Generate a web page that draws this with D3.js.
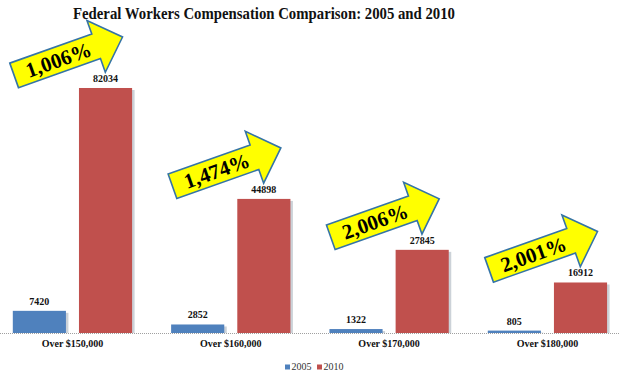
<!DOCTYPE html>
<html><head><meta charset="utf-8">
<script src="https://cdn.jsdelivr.net/npm/d3@7"></script>
<style>html,body{margin:0;padding:0;background:#fff;}svg{display:block;}</style>
</head><body>
<svg id="c" width="620" height="376"></svg>
<script>
const categories = ["Over $150,000", "Over $160,000", "Over $170,000", "Over $180,000"];
const series = ["2005", "2010"];
const values2005 = [7420, 2852, 1322, 805];
const values2010 = [82034, 44898, 27845, 16912];
const increases = ["1,006%", "1,474%", "2,006%", "2,001%"];
const colors = ["#4F81BD", "#C0504D"];
const title = "Federal Workers Compensation Comparison: 2005 and 2010";

const svg = d3.select("#c");
const serif = "'Liberation Serif','Times New Roman',serif";
const baseY = 333;

const x = d3.scaleBand().domain(categories).range([-6.7, 626.6]).paddingInner(0).paddingOuter(0);
const xs = d3.scaleBand().domain(series).range([19.5, 138.8]).paddingInner(0.197).paddingOuter(0);
const y = d3.scaleLinear().domain([0, 90000]).range([baseY, baseY - 268.8]);

// title
svg.append("text").attr("x", 264).attr("y", 19).attr("text-anchor", "middle")
  .attr("font-family", serif).attr("font-weight", "bold").attr("font-size", 17)
  .attr("textLength", 382).attr("lengthAdjust", "spacingAndGlyphs")
  .attr("fill", "#111").text(title);

// baseline
svg.append("line").attr("x1", 0).attr("x2", 620).attr("y1", baseY + 0.5).attr("y2", baseY + 0.5)
  .attr("stroke", "#a0a0a0").attr("stroke-width", 1.2).attr("stroke-dasharray", "1,1");

const rows = categories.map((c, i) => ({c, i, v: [values2005[i], values2010[i]]}));

const g = svg.append("g").selectAll("g").data(rows).join("g")
  .attr("transform", d => `translate(${x(d.c)},0)`);

const bars = g.selectAll("g.b").data(d => series.map((s, k) => ({s, k, v: d.v[k]}))).join("g").attr("class", "b");
// shadow
bars.append("rect").attr("x", d => xs(d.s) + 2.5).attr("y", d => y(d.v) + 2)
  .attr("width", xs.bandwidth()).attr("height", d => baseY - y(d.v) - 2)
  .attr("fill", "#aab4be").attr("opacity", 0.6);
bars.append("rect").attr("x", d => xs(d.s)).attr("y", d => y(d.v))
  .attr("width", xs.bandwidth()).attr("height", d => baseY - y(d.v))
  .attr("fill", d => colors[d.k]);
bars.append("text").attr("x", d => xs(d.s) + xs.bandwidth() / 2).attr("y", d => y(d.v) - 6)
  .attr("text-anchor", "middle").attr("font-family", serif).attr("font-weight", "bold")
  .attr("font-size", 10).attr("fill", "#111").text(d => d.v);

// category labels
svg.append("g").selectAll("text").data(categories).join("text")
  .attr("x", d => x(d) + x.bandwidth() / 2).attr("y", 347).attr("text-anchor", "middle")
  .attr("font-family", serif).attr("font-weight", "bold").attr("font-size", 10).attr("fill", "#111")
  .text(d => d);

// legend
const lg = svg.append("g").selectAll("g").data(series).join("g")
  .attr("transform", (d, k) => `translate(${285 + k * 32},0)`);
lg.append("rect").attr("x", 0).attr("y", 364.5).attr("width", 5).attr("height", 5).attr("fill", (d, k) => colors[k]);
lg.append("text").attr("x", 6.5).attr("y", 370).attr("font-family", serif).attr("font-size", 10)
  .attr("fill", "#333").text(d => d);

// arrows
const ang = -19.5, rad = ang * Math.PI / 180;
const L = 115, shaftL = 87, sw = 13, hw = 27.5;
const arrowPath = `M0,${-sw} L${shaftL},${-sw} L${shaftL},${-hw} L${L},0 L${shaftL},${hw} L${shaftL},${sw} L0,${sw} Z`;
const ag = svg.append("g").selectAll("g").data(rows).join("g")
  .attr("transform", d => {
    const cx = x(d.c) + xs("2010") + xs.bandwidth() / 2;
    let tipX = cx + 17, tipY = y(d.v[1]) - 51;
    let tx = tipX - L * Math.cos(rad), ty = tipY - L * Math.sin(rad);
    if (tx < 6) { tx = 6; }
    return `translate(${tx},${ty}) rotate(${ang})`;
  });
ag.append("path").attr("d", arrowPath).attr("fill", "#FFFF00")
  .attr("stroke", "#3574A6").attr("stroke-width", 1.6).attr("stroke-linejoin", "miter");
ag.append("text").attr("x", 47).attr("y", 0).attr("dy", "0.35em").attr("text-anchor", "middle")
  .attr("font-family", serif).attr("font-weight", "bold").attr("font-size", 21).attr("fill", "#000")
  .text(d => increases[d.i]);
</script>
</body></html>
